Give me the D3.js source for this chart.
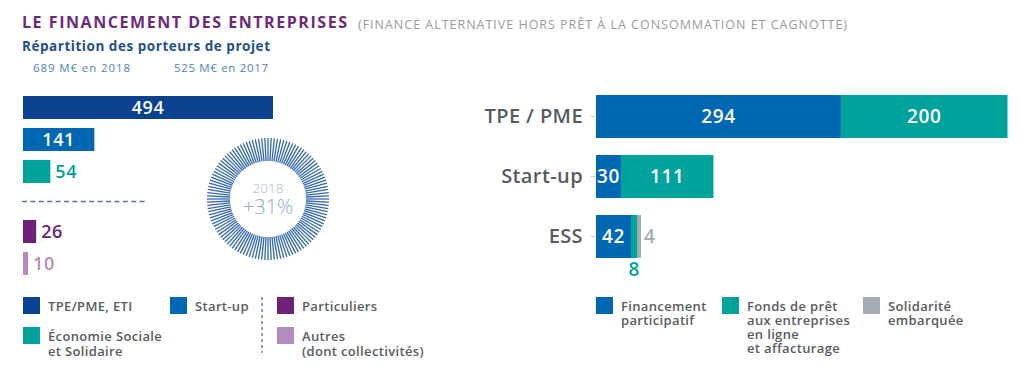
<!DOCTYPE html>
<html><head><meta charset="utf-8">
<script src="https://cdn.jsdelivr.net/npm/d3@7"></script>
<style>
body{margin:0;background:#fff;}
svg{display:block;font-family:"Open Sans",sans-serif;}
</style></head>
<body>
<svg id="c" width="1019" height="376"></svg>
<script>
// ---- DATA ----
const title = "LE FINANCEMENT DES ENTREPRISES";
const titleNote = "(FINANCE ALTERNATIVE HORS PRÊT À LA CONSOMMATION ET CAGNOTTE)";
const subtitle = "Répartition des porteurs de projet";
const totals = ["689 M€ en 2018", "525 M€ en 2017"];
const growthYear = "2018";
const growthLabel = "+31%";

const leftCategories = ["TPE/PME, ETI", "Start-up", "Économie Sociale et Solidaire", "Particuliers", "Autres (dont collectivités)"];
const leftValues = [494, 141, 54, 26, 10];
const leftLegendLines = [["TPE/PME, ETI"], ["Start-up"], ["Économie Sociale", "et Solidaire"], ["Particuliers"], ["Autres", "(dont collectivités)"]];

const rightCategories = ["TPE / PME", "Start-up", "ESS"];
const seriesNames = ["Financement participatif", "Fonds de prêt aux entreprises en ligne et affacturage", "Solidarité embarquée"];
const seriesLegendLines = [["Financement", "participatif"], ["Fonds de prêt", "aux entreprises", "en ligne", "et affacturage"], ["Solidarité", "embarquée"]];
const financement = [294, 30, 42];
const fondsDePret = [200, 111, 8];
const solidarite = [0, 0, 4];

// ---- STYLE ----
const leftColors = ["#0b428f", "#0068b3", "#00a39c", "#6b2277", "#b48bbd"];
const seriesColors = ["#0068b3", "#00a39c", "#a6adb2"];
const textGrey = "#575c62";

const svg = d3.select("#c");

// Titles
svg.append("text").attr("x", 22).attr("y", 28)
  .attr("font-size", 16).attr("font-weight", 700).attr("fill", "#6d2a7d")
  .attr("textLength", 325).attr("lengthAdjust", "spacing").text(title);
svg.append("text").attr("x", 358).attr("y", 28.5)
  .attr("font-size", 12.5).attr("fill", "#9b9b9b")
  .attr("textLength", 489).attr("lengthAdjust", "spacing").text(titleNote);
svg.append("text").attr("x", 22).attr("y", 51)
  .attr("font-size", 13.5).attr("font-weight", 700).attr("fill", "#1f5093")
  .attr("textLength", 248).attr("lengthAdjust", "spacing").text(subtitle);
svg.selectAll("text.tot").data(totals).join("text").attr("class", "tot")
  .attr("x", (d, i) => [33, 174][i]).attr("y", 72)
  .attr("font-size", 11.5).attr("fill", "#4c84c4")
  .attr("textLength", (d, i) => [97, 94][i]).attr("lengthAdjust", "spacing").text(d => d);

// ---- LEFT BARS ----
const lx = d3.scaleLinear().domain([0, 494]).range([23, 273]);
const lband = d3.scaleBand().domain(leftCategories).range([96, 247]).paddingInner(9 / 32).paddingOuter(0);
const groupGap = 28;
const ly = (d, i) => lband(d) + (i >= 3 ? groupGap : 0);

const lg = svg.append("g");
lg.selectAll("rect").data(leftCategories).join("rect")
  .attr("x", lx(0)).attr("y", (d, i) => ly(d, i))
  .attr("width", (d, i) => lx(leftValues[i]) - lx(0))
  .attr("height", lband.bandwidth())
  .attr("fill", (d, i) => leftColors[i]);
lg.selectAll("text").data(leftCategories).join("text")
  .attr("x", (d, i) => {
    const w = lx(leftValues[i]) - lx(0);
    return w > 50 ? lx(0) + w / 2 : lx(leftValues[i]) + 5;
  })
  .attr("y", (d, i) => ly(d, i) + lband.bandwidth() / 2)
  .attr("dy", "0.36em")
  .attr("text-anchor", (d, i) => (lx(leftValues[i]) - lx(0)) > 50 ? "middle" : "start")
  .attr("font-size", 18).attr("font-weight", 600).attr("letter-spacing", 0.6)
  .attr("fill", (d, i) => (lx(leftValues[i]) - lx(0)) > 50 ? "#fff" : leftColors[i])
  .text((d, i) => leftValues[i]);

// dashed divider
const divY = (lband(leftCategories[2]) + lband.bandwidth() + ly(leftCategories[3], 3)) / 2;
svg.append("line").attr("x1", 22).attr("x2", 148).attr("y1", divY).attr("y2", divY)
  .attr("stroke", "#4f76ad").attr("stroke-width", 1.5).attr("stroke-dasharray", "5,3.4");

// ---- GROWTH CIRCLE ----
const cx = 268, cy = 199;
const spokes = d3.range(120);
const ang = d3.scaleLinear().domain([0, 120]).range([0, 2 * Math.PI]);
svg.append("g").selectAll("line").data(spokes).join("line")
  .attr("x1", d => cx + 38 * Math.cos(ang(d))).attr("y1", d => cy + 38 * Math.sin(ang(d)))
  .attr("x2", d => cx + 61 * Math.cos(ang(d))).attr("y2", d => cy + 61 * Math.sin(ang(d)))
  .attr("stroke", "#3468ad").attr("stroke-width", 1.3);
svg.append("text").attr("x", cx).attr("y", 193).attr("text-anchor", "middle")
  .attr("font-size", 13.5).attr("font-weight", 300).attr("fill", "#a9b9d6").text(growthYear);
svg.append("text").attr("x", cx).attr("y", 214).attr("text-anchor", "middle")
  .attr("font-size", 20).attr("font-weight", 300).attr("fill", "#8ea7cf").text(growthLabel);

// ---- RIGHT STACKED BARS ----
const rx = d3.scaleLinear().domain([0, 494]).range([596, 1007.5]);
const ry = d3.scaleBand().domain(rightCategories).range([95, 258]).paddingInner(17 / 60).paddingOuter(0);
const rows = rightCategories.map((c, i) => ({ cat: c, v: [financement[i], fondsDePret[i], solidarite[i]] }));
const stack = d3.stack().keys([0, 1, 2]).value((d, k) => d.v[k]);
const layers = stack(rows);

const rg = svg.append("g");
layers.forEach((layer, k) => {
  rg.append("g").selectAll("rect").data(layer).join("rect")
    .attr("x", d => rx(d[0])).attr("y", d => ry(d.data.cat))
    .attr("width", d => rx(d[1]) - rx(d[0])).attr("height", ry.bandwidth())
    .attr("fill", seriesColors[k]);
});
// value labels
const labels = [];
layers.forEach((layer, k) => layer.forEach(d => {
  const val = d[1] - d[0];
  if (val <= 0) return;
  const w = rx(d[1]) - rx(d[0]);
  let x, y, anchor = "middle", fill = "#fff";
  const yc = ry(d.data.cat) + ry.bandwidth() / 2;
  if (w >= 18) { x = (rx(d[0]) + rx(d[1])) / 2; y = yc; }
  else if (k === 1) { x = (rx(d[0]) + rx(d[1])) / 2; y = ry(d.data.cat) + ry.bandwidth() + 11; fill = seriesColors[1]; }
  else { x = rx(d[1]) + 3; y = yc; anchor = "start"; fill = seriesColors[2]; }
  labels.push({ x, y, anchor, fill, t: val });
}));
rg.selectAll("text.v").data(labels).join("text").attr("class", "v")
  .attr("x", d => d.x).attr("y", d => d.y).attr("dy", "0.36em")
  .attr("text-anchor", d => d.anchor).attr("fill", d => d.fill)
  .attr("font-size", 19).attr("font-weight", 600).attr("letter-spacing", 0.6).text(d => d.t);

// category axis
const ax = svg.append("g").attr("transform", `translate(${rx(0) - 1},0)`)
  .call(d3.axisLeft(ry).tickSize(4).tickPadding(8));
ax.select(".domain").remove();
ax.selectAll(".tick line").attr("stroke", "#c8ccd0");
ax.selectAll(".tick text").attr("font-family", "Open Sans, sans-serif")
  .attr("font-size", 20).attr("font-weight", 600).attr("letter-spacing", 0.4).attr("fill", textGrey);

// ---- LEGENDS ----
function legend(items, lines, colors, positions, lh) {
  const g = svg.append("g");
  items.forEach((it, i) => {
    const p = positions[i];
    g.append("rect").attr("x", p[0]).attr("y", p[1]).attr("width", 17).attr("height", 17).attr("fill", colors[i]);
    const t = g.append("text").attr("x", p[0] + 25).attr("y", p[1] + 13.5)
      .attr("font-size", 13).attr("font-weight", 600).attr("letter-spacing", 0.35).attr("fill", textGrey);
    lines[i].forEach((ln, j) => t.append("tspan").attr("x", p[0] + 25).attr("dy", j ? lh : 0).text(ln));
  });
}
legend(leftCategories, leftLegendLines, leftColors,
  [[23, 297], [170, 297], [23, 327], [277, 297], [277, 327]], 15);
svg.append("line").attr("x1", 262).attr("x2", 262).attr("y1", 297).attr("y2", 353)
  .attr("stroke", "#4f76ad").attr("stroke-width", 1.3).attr("stroke-dasharray", "3,3");
legend(seriesNames, seriesLegendLines, seriesColors,
  [[596, 297], [722, 297], [863, 297]], 14);
</script>
</body></html>
